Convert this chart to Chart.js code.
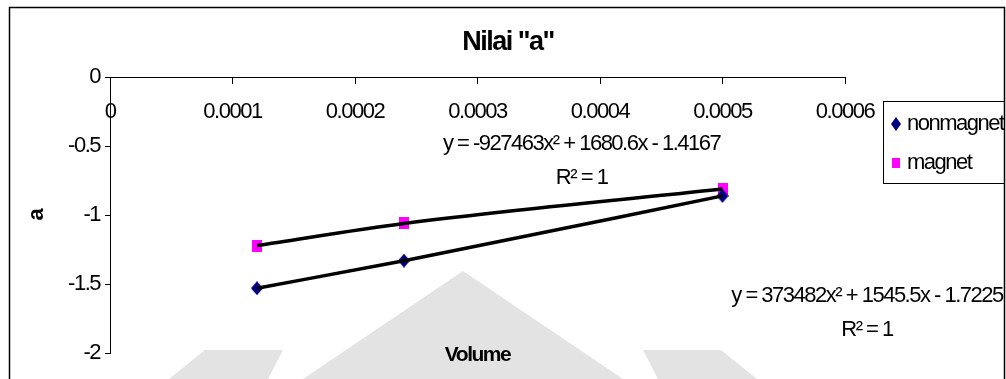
<!DOCTYPE html>
<html>
<head>
<meta charset="utf-8">
<script src="https://cdn.jsdelivr.net/npm/chart.js@4.4.0/dist/chart.umd.min.js"></script>
<style>
  html, body { margin: 0; padding: 0; background: #fff; }
  canvas { display: block; }
</style>
</head>
<body>
<canvas id="chart" width="1006" height="379"></canvas>
<script>
// Measurements: volume against the fitted coefficient "a"
const volume = [0.00012, 0.00024, 0.0005];
const nonmagnet = [-1.53, -1.33, -0.86];
const magnet = [-1.22, -1.06, -0.81];
const seriesNames = ['nonmagnet', 'magnet'];

const xTickLabels = ['0', '0.0001', '0.0002', '0.0003', '0.0004', '0.0005', '0.0006'];
const yTickLabels = ['-2', '-1.5', '-1', '-0.5', '0'];

// Polynomial trendline captions, anchored in data units (volume, a)
const magnetFit = ['y = -927463x\u00B2 + 1680.6x - 1.4167', 'R\u00B2 = 1'];
const nonmagnetFit = ['y = 373482x\u00B2 + 1545.5x - 1.7225', 'R\u00B2 = 1'];
const magnetFitAt = [0.000385, -0.48];
const nonmagnetFitAt = [0.000618, -1.585];

const FONT = '"Liberation Sans", Arial, sans-serif';
const TRACKING = '-1.5px';

function marker(w, h, color, shape) {
  const c = document.createElement('canvas');
  c.width = w; c.height = h;
  const g = c.getContext('2d');
  g.fillStyle = color;
  if (shape === 'diamond') {
    g.beginPath();
    g.moveTo(w / 2, 0); g.lineTo(w, h / 2); g.lineTo(w / 2, h); g.lineTo(0, h / 2);
    g.closePath(); g.fill();
  } else {
    g.fillRect(0, 0, w, h);
  }
  return c;
}
const navy = '#000080', pink = '#FF00FF';
const diamondPt = marker(12, 14, navy, 'diamond');
const squarePt = marker(10, 12, pink, 'square');
const diamondKey = marker(10, 14, navy, 'diamond');
const squareKey = marker(8, 10, pink, 'square');

const pts = ys => volume.map((v, i) => ({ x: v, y: ys[i] }));

const decor = {
  id: 'decor',
  beforeUpdate(chart) { chart.ctx.letterSpacing = TRACKING; },
  beforeDraw(chart) {
    const ctx = chart.ctx;
    ctx.letterSpacing = TRACKING;
    ctx.save();
    ctx.fillStyle = '#fff';
    ctx.fillRect(0, 0, chart.width, chart.height);
    // faint background emblem
    ctx.fillStyle = '#e3e3e3';
    const shapes = [
      [[463, 271], [303, 379], [623, 379]],
      [[169, 379], [205, 350], [283, 350], [268, 379]],
      [[757, 379], [721, 350], [643, 350], [658, 379]]
    ];
    shapes.forEach(s => {
      ctx.beginPath();
      s.forEach((p, i) => i ? ctx.lineTo(p[0], p[1]) : ctx.moveTo(p[0], p[1]));
      ctx.closePath();
      ctx.fill();
    });
    ctx.restore();
  },
  afterDraw(chart) {
    const ctx = chart.ctx;
    const { x, y } = chart.scales;
    const ca = chart.chartArea;
    ctx.save();
    ctx.letterSpacing = TRACKING;
    ctx.fillStyle = '#000';
    ctx.textAlign = 'center';
    ctx.textBaseline = 'middle';

    // x-axis title, sitting at the foot of the plot
    ctx.font = 'bold 21px ' + FONT;
    ctx.fillText('Volume', (ca.left + ca.right) / 2, ca.bottom + 2);

    // trendline equations
    ctx.font = '22px ' + FONT;
    [[magnetFit, magnetFitAt], [nonmagnetFit, nonmagnetFitAt]].forEach(([lines, at]) => {
      const px = x.getPixelForValue(at[0]);
      const py = y.getPixelForValue(at[1]);
      lines.forEach((t, i) => ctx.fillText(t, px, py + i * 34));
    });

    // legend box
    ctx.lineWidth = 1;
    ctx.strokeStyle = '#000';
    ctx.strokeRect(883.5, 101.5, 121, 82);
    const keys = [diamondKey, squareKey];
    ctx.textAlign = 'left';
    [124, 163].forEach((ly, i) => {
      const k = keys[i];
      ctx.drawImage(k, 896 - k.width / 2, ly - k.height / 2);
      ctx.fillText(chart.data.datasets[i].label, 907, ly);
    });

    // outer frame
    ctx.lineWidth = 1.5;
    ctx.strokeRect(9.5, 7.5, 995, 400);
    ctx.restore();
  }
};

new Chart(document.getElementById('chart'), {
  type: 'scatter',
  data: {
    datasets: [
      {
        label: seriesNames[0], data: pts(nonmagnet),
        pointStyle: diamondPt, pointRadius: 6, backgroundColor: navy, borderColor: navy,
        showLine: false, order: 1
      },
      {
        label: seriesNames[1], data: pts(magnet),
        pointStyle: squarePt, pointRadius: 6, backgroundColor: pink, borderColor: pink,
        showLine: false, order: 1
      },
      {
        label: 'Poly. (' + seriesNames[0] + ')', data: pts(nonmagnet),
        showLine: true, borderColor: '#000', borderWidth: 3.5, pointRadius: 0,
        cubicInterpolationMode: 'monotone', order: 0
      },
      {
        label: 'Poly. (' + seriesNames[1] + ')', data: pts(magnet),
        showLine: true, borderColor: '#000', borderWidth: 3.5, pointRadius: 0,
        cubicInterpolationMode: 'monotone', order: 0
      }
    ]
  },
  options: {
    responsive: false,
    devicePixelRatio: 1,
    animation: false,
    events: [],
    layout: { padding: { left: 10, right: 0, top: 0, bottom: 26 } },
    plugins: {
      legend: { display: false },
      tooltip: { enabled: false },
      title: {
        display: true,
        text: 'Nilai "a"',
        color: '#000',
        font: { family: FONT, size: 27, weight: 'bold' },
        padding: { top: 26, bottom: 19 }
      }
    },
    scales: {
      x: {
        type: 'linear',
        position: { y: 0 },
        min: 0, max: 0.0006,
        afterFit(s) { s.height = 0; },
        ticks: {
          stepSize: 0.0001,
          padding: 15,
          color: '#000',
          font: { family: FONT, size: 22 },
          maxRotation: 0,
          autoSkip: false,
          callback: (v, i) => xTickLabels[i]
        },
        grid: { drawOnChartArea: false, drawTicks: true, tickLength: 6, color: '#000' },
        border: { display: true, color: '#000', width: 1 },
        title: { display: false }
      },
      y: {
        type: 'linear',
        position: 'left',
        min: -2, max: 0,
        afterFit(s) { s.width = 100; },
        ticks: {
          stepSize: 0.5,
          padding: 5,
          color: '#000',
          font: { family: FONT, size: 22 },
          callback: (v, i) => yTickLabels[i]
        },
        grid: { drawOnChartArea: false, drawTicks: true, tickLength: 5, color: '#000' },
        border: { display: true, color: '#000', width: 1 },
        title: {
          display: true, text: 'a', color: '#000',
          font: { family: FONT, size: 22, weight: 'bold' },
          padding: { top: 14, bottom: 0 }
        }
      },
      // keeps room on the right for the legend and the second caption
      yRight: {
        type: 'linear',
        position: 'right',
        afterFit(s) { s.width = 161; },
        ticks: { display: false },
        grid: { display: false },
        border: { display: false },
        title: { display: false }
      }
    }
  },
  plugins: [decor]
});
</script>
</body>
</html>
